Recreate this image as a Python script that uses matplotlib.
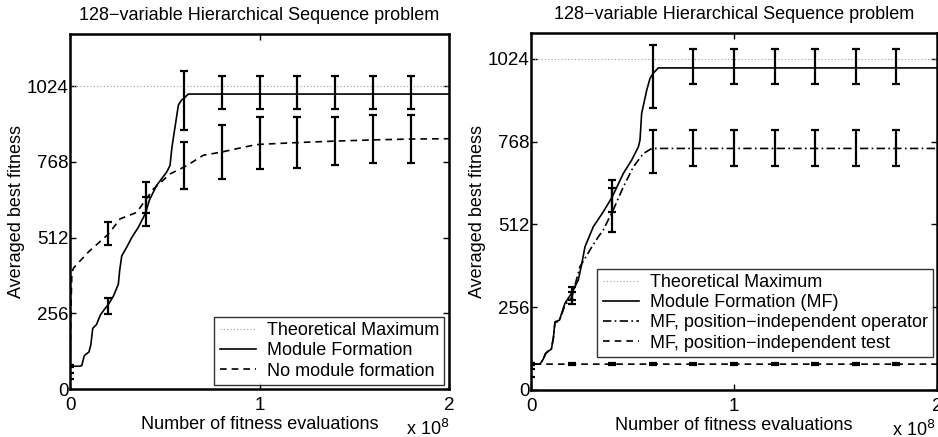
import matplotlib
matplotlib.use("Agg")
import matplotlib.pyplot as plt

plt.rcParams['font.family'] = ['Liberation Sans', 'DejaVu Sans']
plt.rcParams['font.size'] = 13

title_text = "128\u2212variable Hierarchical Sequence problem"
xlabel_text = "Number of fitness evaluations"
ylabel_text = "Averaged best fitness"
yticks = [0, 256, 512, 768, 1024]
xticks = [0, 1, 2]
xtick_labels = ["0", "1", "2"]

theory_x = [0, 2]
theory_y = [1024, 1024]

# ---------------- Left panel ----------------
L_mf_x = [0, 0.05, 0.062, 0.075, 0.085, 0.10, 0.11, 0.12, 0.14, 0.16, 0.185, 0.202, 0.229,
          0.255, 0.262, 0.273, 0.299, 0.326, 0.36, 0.396, 0.42, 0.457, 0.51, 0.528, 0.537,
          0.545, 0.572, 0.589, 0.60, 0.624, 2.0]
L_mf_y = [77, 77, 79, 112, 118, 125, 150, 205, 218, 250, 272, 285, 314,
          354, 400, 450, 479, 512, 546, 591, 640, 688, 733, 756, 812,
          847, 960, 977, 982, 997, 997]
L_nm_x = [0, 0.004, 0.01, 0.02, 0.10, 0.202, 0.264, 0.352, 0.40, 0.44, 0.528, 0.616, 0.703,
          0.80, 0.90, 0.967, 1.0, 1.2, 1.4, 1.6, 1.8, 2.0]
L_nm_y = [44, 250, 395, 410, 465, 523, 575, 597, 640, 676, 727, 755, 790,
          801, 815, 824, 827, 833, 838, 842, 845, 846]
L_eb_x = [0, 0.2, 0.4, 0.6, 0.8, 1.0, 1.2, 1.4, 1.6, 1.8]
L_mf_eb_y = [77, 280, 601, 974, 1002, 1002, 1002, 1002, 1002, 1002]
L_mf_eb_e = [3, 27, 49, 100, 55, 55, 55, 55, 55, 55]
L_nm_eb_y = [44, 526, 648, 756, 801, 830, 834, 838, 845, 845]
L_nm_eb_e = [10, 39, 53, 80, 90, 88, 87, 80, 80, 80]

# ---------------- Right panel ----------------
R_mf_x = [0, 0.044, 0.06, 0.072, 0.085, 0.10, 0.11, 0.118, 0.14, 0.167, 0.20, 0.233, 0.25,
          0.266, 0.307, 0.356, 0.40, 0.455, 0.496, 0.529, 0.537, 0.545, 0.57, 0.586, 0.60,
          0.627, 2.0]
R_mf_y = [80, 80, 95, 113, 120, 126, 160, 211, 216, 268, 299, 340, 390,
          443, 505, 551, 597, 670, 711, 752, 773, 855, 927, 963, 978,
          996, 996]
R_po_x = [0, 0.044, 0.06, 0.072, 0.085, 0.10, 0.11, 0.118, 0.14, 0.167, 0.20, 0.241, 0.30,
          0.332, 0.356, 0.405, 0.455, 0.504, 0.553, 0.595, 2.0]
R_po_y = [80, 80, 95, 113, 120, 126, 160, 208, 214, 262, 285, 381, 443,
          474, 495, 557, 628, 690, 731, 747, 747]
R_pt_x = [0, 0.005, 2.0]
R_pt_y = [52, 80, 80]
R_eb_x = [0, 0.2, 0.4, 0.6, 0.8, 1.0, 1.2, 1.4, 1.6, 1.8]
R_mf_eb_y = [80, 299, 600, 970, 1000, 1000, 1000, 1000, 1000, 1000]
R_mf_eb_e = [3, 20, 49, 97, 55, 55, 55, 55, 55, 55]
R_po_eb_y = [80, 285, 557, 737, 748, 748, 748, 748, 748, 748]
R_po_eb_e = [3, 19, 68, 67, 56, 56, 56, 56, 56, 56]
R_pt_eb_y = [52, 80, 80, 80, 80, 80, 80, 80, 80, 80]
R_pt_eb_e = [12, 2, 2, 2, 2, 2, 2, 2, 2, 2]

fig = plt.figure(figsize=(9.38, 4.37), dpi=100)
axL = fig.add_axes([70 / 938, 1 - 389 / 437, 379 / 938, 355 / 437])
axR = fig.add_axes([531 / 938, 1 - 390 / 437, 406 / 938, 357 / 437])

eb_kw = dict(fmt='none', ecolor='black', elinewidth=1.6, capsize=3.2, capthick=1.6)
leg_kw = dict(loc='lower right', fontsize=13, frameon=True, fancybox=False,
              edgecolor='black', borderpad=0.3, labelspacing=0.18, handlelength=2.0,
              handletextpad=0.6, borderaxespad=0.0)


def style(ax, ymax):
    ax.set_xlim(0, 2)
    ax.set_ylim(0, ymax)
    ax.set_xticks(xticks)
    ax.set_xticklabels(xtick_labels)
    ax.set_yticks(yticks)
    ax.tick_params(direction='in', top=True, right=True, length=4, width=1,
                   labelsize=13.5)
    ax.tick_params(axis='y', pad=1)
    ax.tick_params(axis='x', pad=6)
    for s in ax.spines.values():
        s.set_linewidth(1.8)
    ax.set_title(title_text, fontsize=13, pad=10)
    ax.set_xlabel(xlabel_text, fontsize=13, labelpad=1)
    ax.set_ylabel(ylabel_text, fontsize=13, labelpad=1)


# Left
axL.plot(theory_x, theory_y, linestyle=(0, (1, 2)), color='#999999', lw=0.8,
         label='Theoretical Maximum')
axL.plot(L_mf_x, L_mf_y, '-', color='black', lw=1.2, label='Module Formation')
axL.plot(L_nm_x, L_nm_y, '--', color='black', lw=1.2, dashes=(4, 3), label='No module formation')
axL.errorbar(L_eb_x, L_mf_eb_y, yerr=L_mf_eb_e, **eb_kw)
axL.errorbar(L_eb_x, L_nm_eb_y, yerr=L_nm_eb_e, **eb_kw)
style(axL, 1200)
axL.text(1.0, -0.112, r"x 10$^{8}$", transform=axL.transAxes, ha='right', va='center',
         fontsize=13)
legL = axL.legend(bbox_to_anchor=(0.988, 0.011), **leg_kw)
legL.get_frame().set_linewidth(1.0)

# Right
axR.plot(theory_x, theory_y, linestyle=(0, (1, 2)), color='#999999', lw=0.8,
         label='Theoretical Maximum')
axR.plot(R_mf_x, R_mf_y, '-', color='black', lw=1.2, label='Module Formation (MF)')
axR.plot(R_po_x, R_po_y, '-.', color='black', lw=1.2, dashes=(5, 2, 1, 2),
         label='MF, position\u2212independent operator')
axR.plot(R_pt_x, R_pt_y, '--', color='black', lw=1.2, dashes=(4, 3),
         label='MF, position\u2212independent test')
axR.errorbar(R_eb_x, R_mf_eb_y, yerr=R_mf_eb_e, **eb_kw)
axR.errorbar(R_eb_x, R_po_eb_y, yerr=R_po_eb_e, **eb_kw)
axR.errorbar(R_eb_x, R_pt_eb_y, yerr=R_pt_eb_e, **eb_kw)
style(axR, 1104)
axR.text(0.996, -0.112, r"x 10$^{8}$", transform=axR.transAxes, ha='right', va='center',
         fontsize=13)
legR = axR.legend(bbox_to_anchor=(0.990, 0.092), **leg_kw)
legR.get_frame().set_linewidth(1.0)

fig.savefig('out.png', dpi=100)
